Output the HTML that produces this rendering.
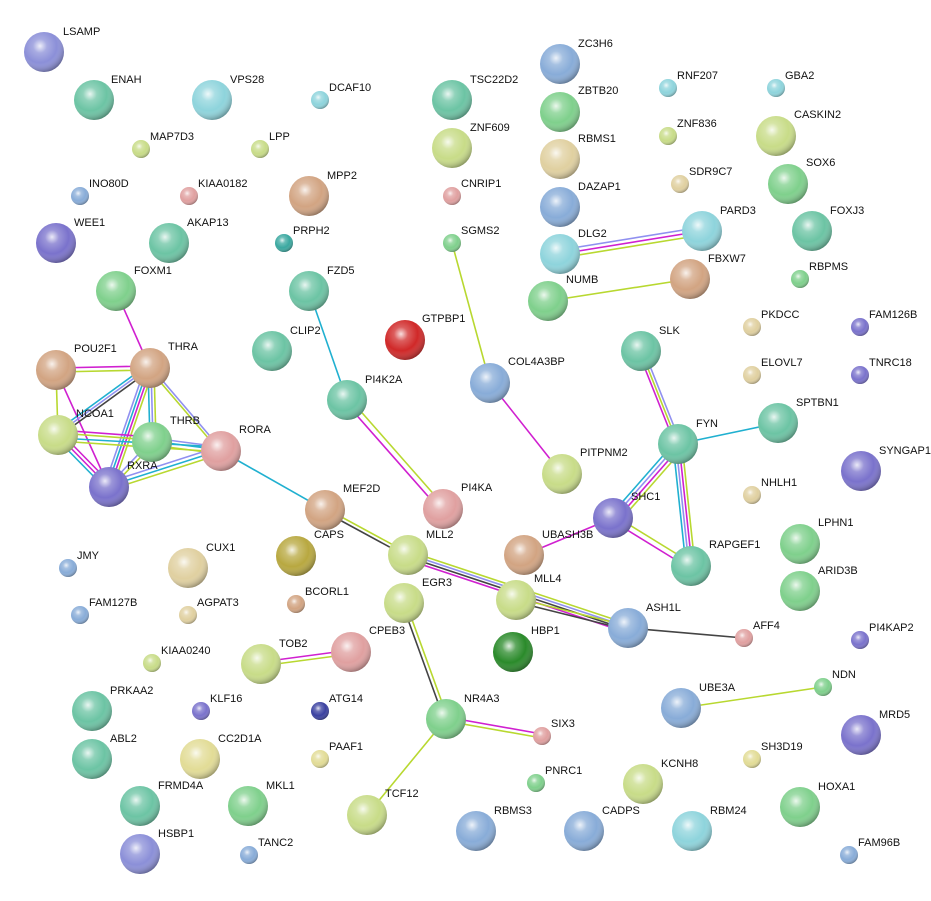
<!DOCTYPE html>
<html><head><meta charset="utf-8"><style>
html,body{margin:0;padding:0;background:#fff}
svg{display:block}
text{font-family:"Liberation Sans",sans-serif;font-size:11px;fill:#111}
.bp{fill:#8b8fd8}.tg{fill:#6cc4a4}.cy{fill:#8ed4dc}.yg{fill:#c8dc88}.pk{fill:#e0a0a0}
.tn{fill:#d2a482}.tl{fill:#3aa8a0}.pu{fill:#7a72cc}.gr{fill:#7fd08c}.bl{fill:#88acd8}
.rd{fill:#d02828}.ol{fill:#b8a840}.dg{fill:#2a8a2a}.db{fill:#3a40a0}.yl{fill:#e2dc96}.tnl{fill:#e0d0a0}
.sh{fill:url(#s)}
line{stroke-width:1.6}
.m{stroke:#d020d0}.y{stroke:#b8d830}.c{stroke:#20b0d0}.v{stroke:#9090f0}.k{stroke:#444}
</style></head><body>
<svg width="931" height="901" viewBox="0 0 931 901" xmlns="http://www.w3.org/2000/svg">
<defs>
<radialGradient id="s" cx="0.4" cy="0.35" r="0.7">
<stop offset="0" stop-color="#fff" stop-opacity="0.85"/>
<stop offset="0.25" stop-color="#fff" stop-opacity="0.25"/>
<stop offset="0.6" stop-color="#fff" stop-opacity="0"/>
<stop offset="1" stop-color="#000" stop-opacity="0.4"/>
</radialGradient>
</defs>
<g>
<line class="m" x1="116" y1="291" x2="150" y2="368"/>
<line class="m" x1="56" y1="368" x2="150" y2="366"/><line class="y" x1="56" y1="372" x2="150" y2="370"/>
<line class="y" x1="56" y1="370" x2="58" y2="435"/>
<line class="m" x1="56" y1="370" x2="109" y2="487"/>
<line class="c" x1="146" y1="366" x2="54" y2="433"/><line class="v" x1="148" y1="368" x2="56" y2="435"/><line class="k" x1="150" y1="370" x2="58" y2="437"/>
<line class="c" x1="148" y1="368" x2="150" y2="442"/><line class="v" x1="151" y1="368" x2="153" y2="442"/><line class="y" x1="154" y1="368" x2="156" y2="442"/>
<line class="v" x1="145" y1="368" x2="104" y2="487"/><line class="c" x1="148" y1="368" x2="107" y2="487"/><line class="m" x1="151" y1="368" x2="110" y2="487"/><line class="y" x1="154" y1="368" x2="113" y2="487"/>
<line class="v" x1="150" y1="366" x2="221" y2="449"/><line class="y" x1="150" y1="370" x2="221" y2="453"/>
<line class="m" x1="58" y1="430" x2="152" y2="437"/><line class="y" x1="58" y1="433" x2="152" y2="440"/><line class="c" x1="58" y1="438" x2="221" y2="447"/><line class="y" x1="58" y1="441" x2="221" y2="452"/>
<line class="c" x1="55" y1="437" x2="106" y2="489"/><line class="m" x1="58" y1="435" x2="109" y2="487"/><line class="m" x1="61" y1="433" x2="112" y2="485"/>
<line class="v" x1="152" y1="440" x2="109" y2="485"/><line class="y" x1="155" y1="442" x2="112" y2="487"/>
<line class="v" x1="152" y1="438" x2="221" y2="447"/><line class="c" x1="152" y1="441" x2="221" y2="450"/><line class="y" x1="152" y1="445" x2="221" y2="454"/>
<line class="v" x1="109" y1="482" x2="221" y2="446"/><line class="c" x1="109" y1="486" x2="221" y2="450"/><line class="y" x1="109" y1="490" x2="221" y2="454"/>
<line class="c" x1="221" y1="451" x2="325" y2="510"/>
<line class="c" x1="309" y1="291" x2="347" y2="400"/>
<line class="m" x1="345" y1="402" x2="441" y2="511"/><line class="y" x1="349" y1="398" x2="445" y2="507"/>
<line class="y" x1="325" y1="508" x2="408" y2="553"/><line class="k" x1="325" y1="512" x2="408" y2="557"/>
<line class="y" x1="408" y1="551" x2="628" y2="624"/><line class="v" x1="408" y1="554" x2="628" y2="627"/><line class="k" x1="408" y1="557" x2="628" y2="630"/><line class="m" x1="408" y1="560" x2="628" y2="633"/>
<line class="y" x1="516" y1="598" x2="628" y2="626"/><line class="k" x1="516" y1="602" x2="628" y2="630"/>
<line class="k" x1="402" y1="603" x2="444" y2="719"/><line class="y" x1="406" y1="603" x2="448" y2="719"/>
<line class="y" x1="452" y1="243" x2="490" y2="383"/>
<line class="m" x1="490" y1="383" x2="562" y2="474"/>
<line class="v" x1="560" y1="250" x2="702" y2="227"/><line class="m" x1="560" y1="254" x2="702" y2="231"/><line class="y" x1="560" y1="258" x2="702" y2="235"/>
<line class="y" x1="548" y1="301" x2="690" y2="279"/>
<line class="m" x1="638" y1="351" x2="675" y2="444"/><line class="y" x1="641" y1="351" x2="678" y2="444"/><line class="v" x1="644" y1="351" x2="681" y2="444"/>
<line class="c" x1="678" y1="444" x2="778" y2="423"/>
<line class="c" x1="675" y1="442" x2="610" y2="516"/><line class="v" x1="678" y1="444" x2="613" y2="518"/><line class="m" x1="681" y1="446" x2="616" y2="520"/><line class="y" x1="684" y1="448" x2="619" y2="522"/>
<line class="c" x1="673" y1="444" x2="686" y2="566"/><line class="v" x1="676" y1="444" x2="689" y2="566"/><line class="m" x1="679" y1="444" x2="692" y2="566"/><line class="y" x1="682" y1="444" x2="695" y2="566"/>
<line class="m" x1="611" y1="520" x2="689" y2="568"/><line class="y" x1="615" y1="516" x2="693" y2="564"/>
<line class="m" x1="613" y1="518" x2="524" y2="555"/>
<line class="k" x1="628" y1="628" x2="744" y2="638"/>
<line class="m" x1="261" y1="662" x2="351" y2="650"/><line class="y" x1="261" y1="666" x2="351" y2="654"/>
<line class="m" x1="446" y1="717" x2="542" y2="734"/><line class="y" x1="446" y1="721" x2="542" y2="738"/>
<line class="y" x1="446" y1="719" x2="367" y2="815"/>
<line class="y" x1="681" y1="708" x2="823" y2="687"/>
</g>
<g>
<circle cx="44" cy="52" r="20" class="bp"/><circle cx="44" cy="52" r="20" class="sh"/><text x="63" y="35">LSAMP</text>
<circle cx="94" cy="100" r="20" class="tg"/><circle cx="94" cy="100" r="20" class="sh"/><text x="111" y="83">ENAH</text>
<circle cx="212" cy="100" r="20" class="cy"/><circle cx="212" cy="100" r="20" class="sh"/><text x="230" y="83">VPS28</text>
<circle cx="320" cy="100" r="9" class="cy"/><circle cx="320" cy="100" r="9" class="sh"/><text x="329" y="91">DCAF10</text>
<circle cx="141" cy="149" r="9" class="yg"/><circle cx="141" cy="149" r="9" class="sh"/><text x="150" y="140">MAP7D3</text>
<circle cx="260" cy="149" r="9" class="yg"/><circle cx="260" cy="149" r="9" class="sh"/><text x="269" y="140">LPP</text>
<circle cx="80" cy="196" r="9" class="bl"/><circle cx="80" cy="196" r="9" class="sh"/><text x="89" y="187">INO80D</text>
<circle cx="189" cy="196" r="9" class="pk"/><circle cx="189" cy="196" r="9" class="sh"/><text x="198" y="187">KIAA0182</text>
<circle cx="309" cy="196" r="20" class="tn"/><circle cx="309" cy="196" r="20" class="sh"/><text x="327" y="179">MPP2</text>
<circle cx="284" cy="243" r="9" class="tl"/><circle cx="284" cy="243" r="9" class="sh"/><text x="293" y="234">PRPH2</text>
<circle cx="56" cy="243" r="20" class="pu"/><circle cx="56" cy="243" r="20" class="sh"/><text x="74" y="226">WEE1</text>
<circle cx="169" cy="243" r="20" class="tg"/><circle cx="169" cy="243" r="20" class="sh"/><text x="187" y="226">AKAP13</text>
<circle cx="116" cy="291" r="20" class="gr"/><circle cx="116" cy="291" r="20" class="sh"/><text x="134" y="274">FOXM1</text>
<circle cx="309" cy="291" r="20" class="tg"/><circle cx="309" cy="291" r="20" class="sh"/><text x="327" y="274">FZD5</text>
<circle cx="272" cy="351" r="20" class="tg"/><circle cx="272" cy="351" r="20" class="sh"/><text x="290" y="334">CLIP2</text>
<circle cx="405" cy="340" r="20" class="rd"/><circle cx="405" cy="340" r="20" class="sh"/><text x="422" y="322">GTPBP1</text>
<circle cx="452" cy="100" r="20" class="tg"/><circle cx="452" cy="100" r="20" class="sh"/><text x="470" y="83">TSC22D2</text>
<circle cx="452" cy="148" r="20" class="yg"/><circle cx="452" cy="148" r="20" class="sh"/><text x="470" y="131">ZNF609</text>
<circle cx="452" cy="196" r="9" class="pk"/><circle cx="452" cy="196" r="9" class="sh"/><text x="461" y="187">CNRIP1</text>
<circle cx="452" cy="243" r="9" class="gr"/><circle cx="452" cy="243" r="9" class="sh"/><text x="461" y="234">SGMS2</text>
<circle cx="560" cy="64" r="20" class="bl"/><circle cx="560" cy="64" r="20" class="sh"/><text x="578" y="47">ZC3H6</text>
<circle cx="560" cy="112" r="20" class="gr"/><circle cx="560" cy="112" r="20" class="sh"/><text x="578" y="94">ZBTB20</text>
<circle cx="560" cy="159" r="20" class="tnl"/><circle cx="560" cy="159" r="20" class="sh"/><text x="578" y="142">RBMS1</text>
<circle cx="560" cy="207" r="20" class="bl"/><circle cx="560" cy="207" r="20" class="sh"/><text x="578" y="190">DAZAP1</text>
<circle cx="560" cy="254" r="20" class="cy"/><circle cx="560" cy="254" r="20" class="sh"/><text x="578" y="237">DLG2</text>
<circle cx="548" cy="301" r="20" class="gr"/><circle cx="548" cy="301" r="20" class="sh"/><text x="566" y="283">NUMB</text>
<circle cx="668" cy="88" r="9" class="cy"/><circle cx="668" cy="88" r="9" class="sh"/><text x="677" y="79">RNF207</text>
<circle cx="776" cy="88" r="9" class="cy"/><circle cx="776" cy="88" r="9" class="sh"/><text x="785" y="79">GBA2</text>
<circle cx="668" cy="136" r="9" class="yg"/><circle cx="668" cy="136" r="9" class="sh"/><text x="677" y="127">ZNF836</text>
<circle cx="776" cy="136" r="20" class="yg"/><circle cx="776" cy="136" r="20" class="sh"/><text x="794" y="118">CASKIN2</text>
<circle cx="680" cy="184" r="9" class="tnl"/><circle cx="680" cy="184" r="9" class="sh"/><text x="689" y="175">SDR9C7</text>
<circle cx="788" cy="184" r="20" class="gr"/><circle cx="788" cy="184" r="20" class="sh"/><text x="806" y="166">SOX6</text>
<circle cx="702" cy="231" r="20" class="cy"/><circle cx="702" cy="231" r="20" class="sh"/><text x="720" y="214">PARD3</text>
<circle cx="812" cy="231" r="20" class="tg"/><circle cx="812" cy="231" r="20" class="sh"/><text x="830" y="214">FOXJ3</text>
<circle cx="690" cy="279" r="20" class="tn"/><circle cx="690" cy="279" r="20" class="sh"/><text x="708" y="262">FBXW7</text>
<circle cx="800" cy="279" r="9" class="gr"/><circle cx="800" cy="279" r="9" class="sh"/><text x="809" y="270">RBPMS</text>
<circle cx="752" cy="327" r="9" class="tnl"/><circle cx="752" cy="327" r="9" class="sh"/><text x="761" y="318">PKDCC</text>
<circle cx="860" cy="327" r="9" class="pu"/><circle cx="860" cy="327" r="9" class="sh"/><text x="869" y="318">FAM126B</text>
<circle cx="641" cy="351" r="20" class="tg"/><circle cx="641" cy="351" r="20" class="sh"/><text x="659" y="334">SLK</text>
<circle cx="752" cy="375" r="9" class="tnl"/><circle cx="752" cy="375" r="9" class="sh"/><text x="761" y="366">ELOVL7</text>
<circle cx="860" cy="375" r="9" class="pu"/><circle cx="860" cy="375" r="9" class="sh"/><text x="869" y="366">TNRC18</text>
<circle cx="490" cy="383" r="20" class="bl"/><circle cx="490" cy="383" r="20" class="sh"/><text x="508" y="365">COL4A3BP</text>
<circle cx="56" cy="370" r="20" class="tn"/><circle cx="56" cy="370" r="20" class="sh"/><text x="74" y="352">POU2F1</text>
<circle cx="150" cy="368" r="20" class="tn"/><circle cx="150" cy="368" r="20" class="sh"/><text x="168" y="350">THRA</text>
<circle cx="58" cy="435" r="20" class="yg"/><circle cx="58" cy="435" r="20" class="sh"/><text x="76" y="417">NCOA1</text>
<circle cx="152" cy="442" r="20" class="gr"/><circle cx="152" cy="442" r="20" class="sh"/><text x="170" y="424">THRB</text>
<circle cx="221" cy="451" r="20" class="pk"/><circle cx="221" cy="451" r="20" class="sh"/><text x="239" y="433">RORA</text>
<circle cx="109" cy="487" r="20" class="pu"/><circle cx="109" cy="487" r="20" class="sh"/><text x="127" y="469">RXRA</text>
<circle cx="347" cy="400" r="20" class="tg"/><circle cx="347" cy="400" r="20" class="sh"/><text x="365" y="383">PI4K2A</text>
<circle cx="443" cy="509" r="20" class="pk"/><circle cx="443" cy="509" r="20" class="sh"/><text x="461" y="491">PI4KA</text>
<circle cx="562" cy="474" r="20" class="yg"/><circle cx="562" cy="474" r="20" class="sh"/><text x="580" y="456">PITPNM2</text>
<circle cx="678" cy="444" r="20" class="tg"/><circle cx="678" cy="444" r="20" class="sh"/><text x="696" y="427">FYN</text>
<circle cx="778" cy="423" r="20" class="tg"/><circle cx="778" cy="423" r="20" class="sh"/><text x="796" y="406">SPTBN1</text>
<circle cx="861" cy="471" r="20" class="pu"/><circle cx="861" cy="471" r="20" class="sh"/><text x="879" y="454">SYNGAP1</text>
<circle cx="752" cy="495" r="9" class="tnl"/><circle cx="752" cy="495" r="9" class="sh"/><text x="761" y="486">NHLH1</text>
<circle cx="613" cy="518" r="20" class="pu"/><circle cx="613" cy="518" r="20" class="sh"/><text x="631" y="500">SHC1</text>
<circle cx="325" cy="510" r="20" class="tn"/><circle cx="325" cy="510" r="20" class="sh"/><text x="343" y="492">MEF2D</text>
<circle cx="296" cy="556" r="20" class="ol"/><circle cx="296" cy="556" r="20" class="sh"/><text x="314" y="538">CAPS</text>
<circle cx="408" cy="555" r="20" class="yg"/><circle cx="408" cy="555" r="20" class="sh"/><text x="426" y="538">MLL2</text>
<circle cx="524" cy="555" r="20" class="tn"/><circle cx="524" cy="555" r="20" class="sh"/><text x="542" y="538">UBASH3B</text>
<circle cx="691" cy="566" r="20" class="tg"/><circle cx="691" cy="566" r="20" class="sh"/><text x="709" y="548">RAPGEF1</text>
<circle cx="800" cy="544" r="20" class="gr"/><circle cx="800" cy="544" r="20" class="sh"/><text x="818" y="526">LPHN1</text>
<circle cx="800" cy="591" r="20" class="gr"/><circle cx="800" cy="591" r="20" class="sh"/><text x="818" y="574">ARID3B</text>
<circle cx="68" cy="568" r="9" class="bl"/><circle cx="68" cy="568" r="9" class="sh"/><text x="77" y="559">JMY</text>
<circle cx="188" cy="568" r="20" class="tnl"/><circle cx="188" cy="568" r="20" class="sh"/><text x="206" y="551">CUX1</text>
<circle cx="404" cy="603" r="20" class="yg"/><circle cx="404" cy="603" r="20" class="sh"/><text x="422" y="586">EGR3</text>
<circle cx="516" cy="600" r="20" class="yg"/><circle cx="516" cy="600" r="20" class="sh"/><text x="534" y="582">MLL4</text>
<circle cx="296" cy="604" r="9" class="tn"/><circle cx="296" cy="604" r="9" class="sh"/><text x="305" y="595">BCORL1</text>
<circle cx="80" cy="615" r="9" class="bl"/><circle cx="80" cy="615" r="9" class="sh"/><text x="89" y="606">FAM127B</text>
<circle cx="188" cy="615" r="9" class="tnl"/><circle cx="188" cy="615" r="9" class="sh"/><text x="197" y="606">AGPAT3</text>
<circle cx="628" cy="628" r="20" class="bl"/><circle cx="628" cy="628" r="20" class="sh"/><text x="646" y="611">ASH1L</text>
<circle cx="744" cy="638" r="9" class="pk"/><circle cx="744" cy="638" r="9" class="sh"/><text x="753" y="629">AFF4</text>
<circle cx="860" cy="640" r="9" class="pu"/><circle cx="860" cy="640" r="9" class="sh"/><text x="869" y="631">PI4KAP2</text>
<circle cx="513" cy="652" r="20" class="dg"/><circle cx="513" cy="652" r="20" class="sh"/><text x="531" y="634">HBP1</text>
<circle cx="351" cy="652" r="20" class="pk"/><circle cx="351" cy="652" r="20" class="sh"/><text x="369" y="634">CPEB3</text>
<circle cx="261" cy="664" r="20" class="yg"/><circle cx="261" cy="664" r="20" class="sh"/><text x="279" y="647">TOB2</text>
<circle cx="152" cy="663" r="9" class="yg"/><circle cx="152" cy="663" r="9" class="sh"/><text x="161" y="654">KIAA0240</text>
<circle cx="92" cy="711" r="20" class="tg"/><circle cx="92" cy="711" r="20" class="sh"/><text x="110" y="694">PRKAA2</text>
<circle cx="201" cy="711" r="9" class="pu"/><circle cx="201" cy="711" r="9" class="sh"/><text x="210" y="702">KLF16</text>
<circle cx="320" cy="711" r="9" class="db"/><circle cx="320" cy="711" r="9" class="sh"/><text x="329" y="702">ATG14</text>
<circle cx="446" cy="719" r="20" class="gr"/><circle cx="446" cy="719" r="20" class="sh"/><text x="464" y="702">NR4A3</text>
<circle cx="542" cy="736" r="9" class="pk"/><circle cx="542" cy="736" r="9" class="sh"/><text x="551" y="727">SIX3</text>
<circle cx="681" cy="708" r="20" class="bl"/><circle cx="681" cy="708" r="20" class="sh"/><text x="699" y="691">UBE3A</text>
<circle cx="823" cy="687" r="9" class="gr"/><circle cx="823" cy="687" r="9" class="sh"/><text x="832" y="678">NDN</text>
<circle cx="861" cy="735" r="20" class="pu"/><circle cx="861" cy="735" r="20" class="sh"/><text x="879" y="718">MRD5</text>
<circle cx="92" cy="759" r="20" class="tg"/><circle cx="92" cy="759" r="20" class="sh"/><text x="110" y="742">ABL2</text>
<circle cx="200" cy="759" r="20" class="yl"/><circle cx="200" cy="759" r="20" class="sh"/><text x="218" y="742">CC2D1A</text>
<circle cx="320" cy="759" r="9" class="yl"/><circle cx="320" cy="759" r="9" class="sh"/><text x="329" y="750">PAAF1</text>
<circle cx="752" cy="759" r="9" class="yl"/><circle cx="752" cy="759" r="9" class="sh"/><text x="761" y="750">SH3D19</text>
<circle cx="536" cy="783" r="9" class="gr"/><circle cx="536" cy="783" r="9" class="sh"/><text x="545" y="774">PNRC1</text>
<circle cx="643" cy="784" r="20" class="yg"/><circle cx="643" cy="784" r="20" class="sh"/><text x="661" y="767">KCNH8</text>
<circle cx="140" cy="806" r="20" class="tg"/><circle cx="140" cy="806" r="20" class="sh"/><text x="158" y="789">FRMD4A</text>
<circle cx="248" cy="806" r="20" class="gr"/><circle cx="248" cy="806" r="20" class="sh"/><text x="266" y="789">MKL1</text>
<circle cx="367" cy="815" r="20" class="yg"/><circle cx="367" cy="815" r="20" class="sh"/><text x="385" y="797">TCF12</text>
<circle cx="800" cy="807" r="20" class="gr"/><circle cx="800" cy="807" r="20" class="sh"/><text x="818" y="790">HOXA1</text>
<circle cx="476" cy="831" r="20" class="bl"/><circle cx="476" cy="831" r="20" class="sh"/><text x="494" y="814">RBMS3</text>
<circle cx="584" cy="831" r="20" class="bl"/><circle cx="584" cy="831" r="20" class="sh"/><text x="602" y="814">CADPS</text>
<circle cx="692" cy="831" r="20" class="cy"/><circle cx="692" cy="831" r="20" class="sh"/><text x="710" y="814">RBM24</text>
<circle cx="140" cy="854" r="20" class="bp"/><circle cx="140" cy="854" r="20" class="sh"/><text x="158" y="837">HSBP1</text>
<circle cx="249" cy="855" r="9" class="bl"/><circle cx="249" cy="855" r="9" class="sh"/><text x="258" y="846">TANC2</text>
<circle cx="849" cy="855" r="9" class="bl"/><circle cx="849" cy="855" r="9" class="sh"/><text x="858" y="846">FAM96B</text>
</g>
</svg>
</body></html>
